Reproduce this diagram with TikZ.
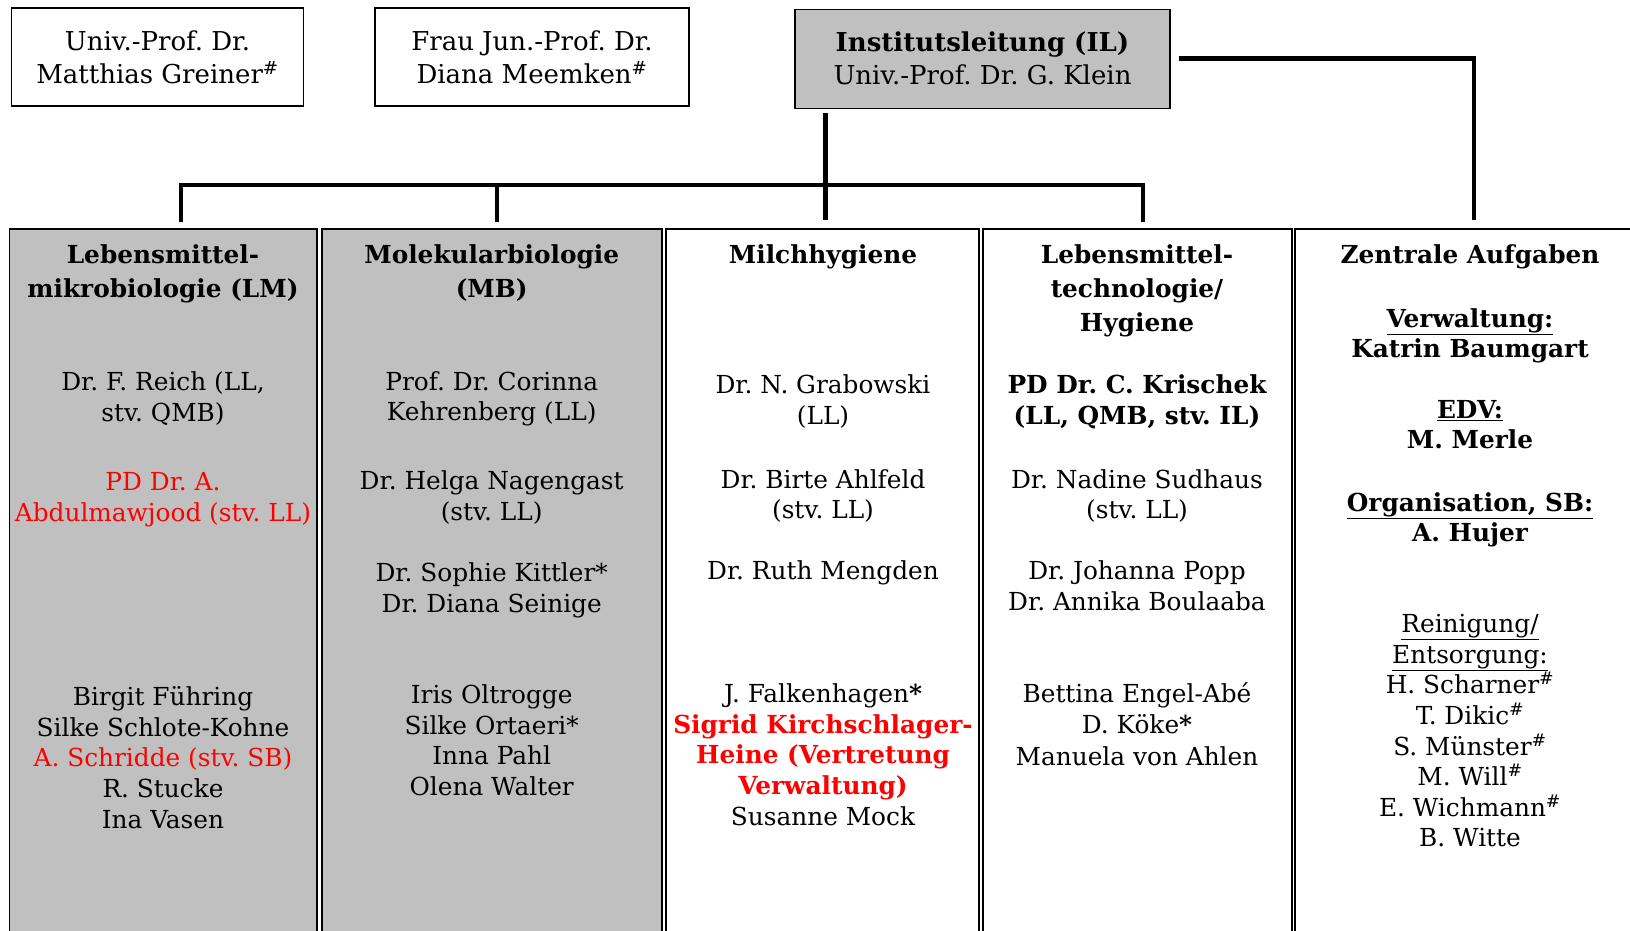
\documentclass[tikz,border=0pt]{standalone}
\usepackage{fontspec}
\setmainfont{DejaVu Serif}
\frenchspacing
\definecolor{boxgray}{HTML}{C0C0C0}
\definecolor{orgred}{HTML}{FF0000}
\tikzset{
  box/.style={draw, line width=1.3pt, align=center, inner sep=0pt, font=\fontsize{26}{33}\selectfont},
  col/.style={draw, line width=1.3pt, minimum height=716pt, inner sep=0pt},
  conn/.style={line width=4.5pt},
  txt/.style={font=\fontsize{24.8}{31}\selectfont, inner sep=0pt, anchor=base},
}
\newcommand\blk[5]{%
  \foreach \t [count=\i] in {#5} {\node[txt] (#1-\i) at (#2, {#3 + 9 + (\i-1)*#4}) {\t};}}
\begin{document}
\begin{tikzpicture}[x=1pt, y=-1pt]
\useasboundingbox (0,0) rectangle (1630,930);
\fill[white] (0,0) rectangle (1630,930);

% top boxes
\node[box, minimum width=292pt, minimum height=98pt] (greiner) at (157.5,57)
  {Univ.-Prof. Dr.\\Matthias Greiner\textsuperscript{\#}};
\node[box, minimum width=314pt, minimum height=98pt] (meemken) at (532,57)
  {Frau Jun.-Prof. Dr.\\Diana Meemken\textsuperscript{\#}};
\node[box, fill=boxgray, minimum width=375pt, minimum height=99pt] (il) at (982.5,58.7)
  {\textbf{Institutsleitung (IL)}\\Univ.-Prof. Dr. G. Klein};

% columns
\node[col, fill=boxgray, minimum width=307.6pt] (c1) at (163.2,587) {};
\node[col, fill=boxgray, minimum width=340pt] (c2) at (492,587) {};
\node[col, fill=white, minimum width=313pt] (c3) at (822.5,587) {};
\node[col, fill=white, minimum width=309pt] (c4) at (1137.5,587) {};
\node[col, fill=white, minimum width=358pt] (c5) at (1474,587) {};

% connectors
\coordinate (bl) at (181,185);
\coordinate (bm) at (497,185);
\coordinate (br) at (1143,185);
\coordinate (bv) at (825.5,185);
\draw[conn, shorten <=6pt, shorten >=6pt] (bl |- c1.north) -- (bl) -- (br) -- (br |- c4.north);
\draw[conn, shorten >=6pt] (bm) -- (bm |- c2.north);
\draw[conn, shorten <=4pt, shorten >=8pt] (il.south -| bv) -- (bv |- c3.north);
\draw[conn, shorten <=8pt, shorten >=8pt] (il.east) -- (il.east -| c5.north) -- (c5.north);

% column 1
\blk{h1}{163}{254.7}{34}{{\bfseries Lebensmittel-},{\bfseries mikrobiologie (LM)}}
\blk{a1}{163}{381.5}{31}{{Dr. F. Reich (LL,},{stv. QMB)}}
\blk{b1}{163}{481.3}{31}{{\color{orgred}PD Dr. A.},{\color{orgred}Abdulmawjood (stv. LL)}}
\blk{d1}{163}{696.5}{30.7}{Birgit Führing,Silke Schlote-Kohne,{\color{orgred}A. Schridde (stv. SB)},R. Stucke,Ina Vasen}

% column 2
\blk{h2}{491.7}{254.7}{34}{{\bfseries Molekularbiologie},{\bfseries (MB)}}
\blk{a2}{491.7}{381.5}{29.5}{Prof. Dr. Corinna,Kehrenberg (LL)}
\blk{b2}{491.7}{480.2}{31}{Dr. Helga Nagengast,(stv. LL)}
\blk{c2}{491.7}{572.8}{30.5}{Dr. Sophie Kittler*,Dr. Diana Seinige}
\blk{d2}{491.7}{694.4}{30.7}{Iris Oltrogge,Silke Ortaeri*,Inna Pahl,Olena Walter}

% column 3
\blk{h3}{823}{254.7}{34}{{\bfseries Milchhygiene}}
\blk{a3}{823}{384.6}{30.5}{Dr. N. Grabowski,(LL)}
\blk{b3}{823}{479.2}{30.5}{Dr. Birte Ahlfeld,(stv. LL)}
\blk{c3}{823}{570.7}{30.5}{Dr. Ruth Mengden}
\blk{d3}{823}{693.3}{30.7}{J. Falkenhagen\textbf{*},{\color{orgred}\bfseries Sigrid Kirchschlager-},{\color{orgred}\bfseries Heine (Vertretung},{\color{orgred}\bfseries Verwaltung)},Susanne Mock}

% column 4
\blk{h4}{1137}{254.7}{33.8}{{\bfseries Lebensmittel-},{\bfseries technologie/},{\bfseries Hygiene}}
\blk{a4}{1137}{384.6}{31}{{\bfseries PD Dr. C. Krischek},{\bfseries (LL, QMB, stv. IL)}}
\blk{b4}{1137}{479.2}{30.5}{Dr. Nadine Sudhaus,(stv. LL)}
\blk{c4}{1137}{570.7}{31}{Dr. Johanna Popp,Dr. Annika Boulaaba}
\blk{d4}{1137}{693.3}{31.5}{Bettina Engel-Abé,D. Köke\textbf{*},Manuela von Ahlen}

% column 5
\blk{h5}{1470}{254.7}{34}{{\bfseries Zentrale Aufgaben}}
\blk{a5}{1470}{318.1}{30.1}{{\bfseries\underline{Verwaltung:}},{\bfseries Katrin Baumgart}}
\blk{b5}{1470}{409.6}{30.1}{{\bfseries\underline{EDV:}},{\bfseries M. Merle}}
\blk{e5}{1470}{502.1}{30.1}{{\bfseries\underline{Organisation, SB:}},{\bfseries A. Hujer}}
\blk{d5}{1470}{623.7}{30.6}{{\underline{Reinigung/}},{\underline{Entsorgung:}},H. Scharner\textsuperscript{\#},T. Dikic\textsuperscript{\#},S. Münster\textsuperscript{\#},M. Will\textsuperscript{\#},E. Wichmann\textsuperscript{\#},B. Witte}
\end{tikzpicture}
\end{document}
